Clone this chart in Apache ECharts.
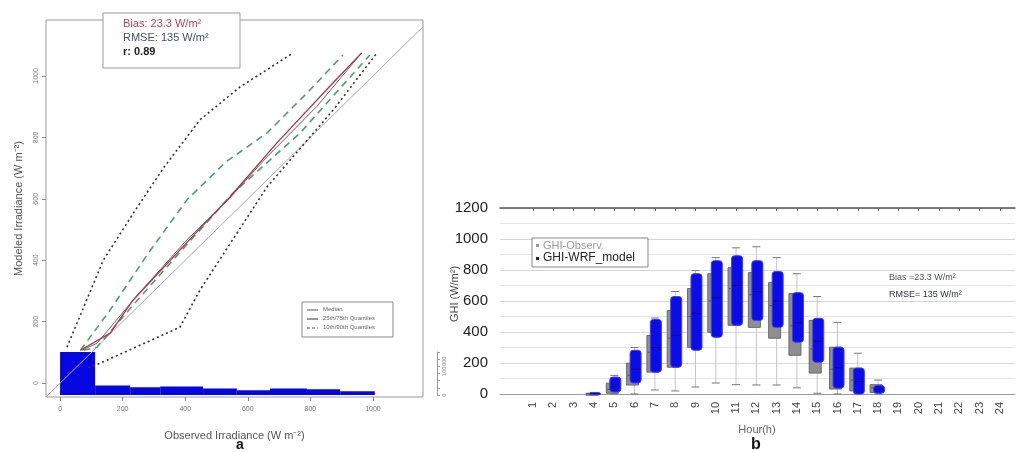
<!DOCTYPE html>
<html>
<head>
<meta charset="utf-8">
<script src="https://cdn.jsdelivr.net/npm/echarts@6/dist/echarts.min.js"></script>
<style>
  html, body { margin: 0; padding: 0; background: #fff; }
  #chart { width: 1023px; height: 452px; }
</style>
</head>
<body>
<div id="chart"></div>
<script>
// ---- panel a : modeled vs observed irradiance (W m-2) ----
const medianLine = [[65, 107], [160, 163], [233, 270], [434, 489], [543, 606], [693, 782], [872, 977], [964, 1075]];
const medianDark = [[70, 107], [118, 130], [250, 290], [405, 466], [540, 600], [661, 736], [820, 900], [964, 1075]];
const q75Line = [[65, 107], [160, 238], [280, 420], [405, 596], [530, 720], [661, 814], [790, 945], [904, 1068]];
const q25Line = [[75, 107], [118, 117], [230, 250], [341, 378], [553, 619], [767, 814], [990, 1068]];
const q90Line = [[22, 117], [138, 400], [234, 553], [330, 700], [447, 857], [575, 964], [745, 1075]];
const q10Line = [[90, 50], [128, 65], [383, 182], [447, 303], [661, 638], [873, 889], [1013, 1075]];
const oneToOne = [[-45, -45], [1160, 1160]];
const histEdges = [0, 112, 224, 320, 457, 565, 671, 789, 895, 1006];
const histCounts = [150000, 33000, 27000, 30000, 23000, 17000, 23000, 20000, 13000];

// ---- panel b : hourly GHI box plots (W/m2) ----
const hours = ['1', '2', '3', '4', '5', '6', '7', '8', '9', '10', '11', '12',
  '13', '14', '15', '16', '17', '18', '19', '20', '21', '22', '23', '24'];
const obsMin = [0, 0, 0, 0, 0, 0, 26, 20, 45, 71, 60, 58, 58, 40, 5, 0, 0, 0, 0, 0, 0, 0, 0, 0];
const obsQ1 = [0, 0, 0, 0, 5, 58, 141, 173, 301, 398, 443, 430, 360, 250, 135, 32, 20, 10, 0, 0, 0, 0, 0, 0];
const obsMed = [0, 0, 0, 2, 30, 120, 270, 360, 500, 600, 680, 640, 570, 440, 290, 160, 90, 40, 0, 0, 0, 0, 0, 0];
const obsQ3 = [0, 0, 0, 5, 70, 199, 378, 539, 680, 776, 815, 783, 720, 648, 475, 302, 167, 60, 0, 0, 0, 0, 0, 0];
const obsMax = [0, 0, 0, 10, 120, 300, 490, 661, 796, 880, 943, 950, 880, 776, 629, 462, 263, 90, 0, 0, 0, 0, 0, 0];
const wrfMin = [0, 0, 0, 0, 0, 0, 26, 20, 45, 71, 60, 58, 58, 40, 5, 0, 0, 0, 0, 0, 0, 0, 0, 0];
const wrfQ1 = [0, 0, 0, 0, 13, 71, 141, 173, 282, 366, 443, 475, 430, 334, 205, 38, 0, 5, 0, 0, 0, 0, 0, 0];
const wrfMed = [0, 0, 0, 3, 50, 160, 300, 380, 520, 620, 700, 660, 600, 460, 340, 170, 80, 30, 0, 0, 0, 0, 0, 0];
const wrfQ3 = [0, 0, 0, 8, 109, 282, 481, 629, 776, 860, 892, 860, 790, 654, 488, 302, 167, 55, 0, 0, 0, 0, 0, 0];
const wrfMax = [0, 0, 0, 10, 120, 300, 490, 661, 796, 880, 943, 950, 880, 776, 629, 462, 263, 90, 0, 0, 0, 0, 0, 0];

const boxRows = (mn, q1, md, q3, mx) =>
  hours.map((h, i) => [i, mn[i], q1[i], md[i], q3[i], mx[i]]).filter(r => r[5] > 0);

const font = 'Liberation Sans, Arial, sans-serif';
const myChart = echarts.init(document.getElementById('chart'));

function boxItem(fill, stroke, offset, width, whiskers) {
  return function (params, api) {
    const i = api.value(0);
    const pMin = api.coord([i, api.value(1)]);
    const pQ1 = api.coord([i, api.value(2)]);
    const pMed = api.coord([i, api.value(3)]);
    const pQ3 = api.coord([i, api.value(4)]);
    const pMax = api.coord([i, api.value(5)]);
    const cx = pMed[0] + offset;
    const children = [];
    if (whiskers) {
      const wx = pMed[0];
      children.push(
        { type: 'line', shape: { x1: wx, y1: pMax[1], x2: wx, y2: pQ3[1] }, style: { stroke: '#c4c4c4', lineWidth: 1 } },
        { type: 'line', shape: { x1: wx, y1: pQ1[1], x2: wx, y2: pMin[1] }, style: { stroke: '#c4c4c4', lineWidth: 1 } },
        { type: 'line', shape: { x1: wx - 4, y1: pMax[1], x2: wx + 4, y2: pMax[1] }, style: { stroke: '#777', lineWidth: 1 } },
        { type: 'line', shape: { x1: wx - 4, y1: pMin[1], x2: wx + 4, y2: pMin[1] }, style: { stroke: '#777', lineWidth: 1 } }
      );
    }
    const h = Math.max(pQ1[1] - pQ3[1], 2);
    children.push({
      type: 'rect',
      shape: { x: cx - width / 2, y: pQ3[1], width: width, height: h, r: whiskers ? 0 : 3 },
      style: { fill: fill, stroke: stroke, lineWidth: 1 }
    });
    children.push({
      type: 'line',
      shape: { x1: cx - width / 2 + 1, y1: pMed[1], x2: cx + width / 2 - 1, y2: pMed[1] },
      style: { stroke: whiskers ? '#555' : '#0a0a80', lineWidth: 1 }
    });
    return { type: 'group', children: children };
  };
}

const lineSeries = (data, color, width, type) => ({
  type: 'line', xAxisIndex: 0, yAxisIndex: 0, data: data, symbol: 'none', silent: true,
  lineStyle: { color: color, width: width, type: type }, z: 3
});

const option = {
  animation: false,
  backgroundColor: '#fff',
  textStyle: { fontFamily: font },
  grid: [
    { left: 46, right: 600, top: 20, bottom: 55, show: true, borderColor: '#9a9a9a', borderWidth: 1 },
    { left: 500, right: 8, top: 208, bottom: 58 },
    { left: 523, right: 13, top: 208, bottom: 58 },
    { left: 46, right: 600, top: 352, bottom: 57 }
  ],
  xAxis: [
    {
      gridIndex: 0, type: 'value', min: -45, max: 1160,
      axisLine: { show: false, onZero: false }, splitLine: { show: false },
      axisTick: { show: true, length: 4, lineStyle: { color: '#888' } },
      axisLabel: { fontSize: 7, color: '#777', margin: 9, showMinLabel: false, showMaxLabel: false, formatter: v => String(v) },
      name: 'Observed Irradiance (W m\u207B\u00B2)', nameLocation: 'middle', nameGap: 33,
      nameTextStyle: { fontSize: 11, color: '#555' }
    },
    {
      gridIndex: 1, type: 'value', min: 0, max: 1, position: 'bottom',
      axisLine: { show: true, onZero: false, lineStyle: { color: '#9a9a9a' } },
      axisTick: { show: false }, axisLabel: { show: false }, splitLine: { show: false }
    },
    {
      gridIndex: 1, type: 'value', min: 0, max: 1, position: 'top',
      axisLine: { show: true, onZero: false, lineStyle: { color: '#555', width: 1.5 } },
      axisTick: { show: false }, axisLabel: { show: false }, splitLine: { show: false }
    },
    {
      gridIndex: 2, type: 'category', data: hours, position: 'bottom',
      axisLine: { show: false, onZero: false }, axisTick: { show: false },
      axisLabel: { rotate: 90, fontSize: 11, color: '#444', margin: 8, interval: 0 }
    },
    {
      gridIndex: 2, type: 'category', data: hours, position: 'top',
      axisLine: { show: false, onZero: false },
      axisTick: { show: true, inside: true, length: 3, alignWithLabel: true, interval: 0, lineStyle: { color: '#666' } },
      axisLabel: { show: false }
    },
    {
      gridIndex: 3, type: 'value', min: -45, max: 1160, show: false
    }
  ],
  yAxis: [
    {
      gridIndex: 0, type: 'value', min: -45, max: 1182,
      axisLine: { show: false, onZero: false }, splitLine: { show: false },
      axisTick: { show: true, length: 4, lineStyle: { color: '#888' } },
      axisLabel: { fontSize: 7, color: '#777', rotate: 90, margin: 6, showMinLabel: false, showMaxLabel: false, formatter: v => String(v) },
      name: 'Modeled Irradiance (W m\u207B\u00B2)', nameLocation: 'middle', nameGap: 22,
      nameTextStyle: { fontSize: 11, color: '#555' }
    },
    {
      gridIndex: 1, type: 'value', min: 0, max: 1200, interval: 200,
      axisLine: { show: false }, axisTick: { show: false },
      axisLabel: { fontSize: 15, color: '#222', margin: 12, formatter: v => String(v) },
      splitLine: { show: true, lineStyle: { color: '#d6d6d6' } },
      minorTick: { show: false, splitNumber: 2 },
      minorSplitLine: { show: true, lineStyle: { color: '#e4e4e4' } }
    },
    {
      gridIndex: 2, type: 'value', min: 0, max: 1200, show: false
    },
    {
      gridIndex: 3, type: 'value', min: 0, max: 150000, interval: 25000, position: 'right', offset: 14,
      axisLine: { show: true, onZero: false, lineStyle: { color: '#999' } },
      axisTick: { show: true, length: 3, lineStyle: { color: '#999' } },
      splitLine: { show: false },
      axisLabel: {
        fontSize: 6, color: '#888', rotate: 90, margin: 4,
        formatter: v => (v === 0 || v === 100000) ? String(v) : ''
      }
    }
  ],
  series: [
    // histogram of observations (panel a)
    {
      type: 'custom', xAxisIndex: 5, yAxisIndex: 3, silent: true, z: 2,
      data: histCounts.map((c, i) => [histEdges[i], histEdges[i + 1], c]),
      renderItem: function (params, api) {
        const p0 = api.coord([api.value(0), api.value(2)]);
        const p1 = api.coord([api.value(1), 0]);
        return {
          type: 'rect',
          shape: { x: p0[0], y: p0[1], width: p1[0] - p0[0], height: p1[1] - p0[1] },
          style: { fill: '#0606e0' }
        };
      }
    },
    lineSeries(oneToOne, '#a8a8a8', 1, 'solid'),
    lineSeries(q90Line, '#333', 1.6, [2, 3]),
    lineSeries(q10Line, '#333', 1.6, [2, 3]),
    lineSeries(q75Line, '#4aa06a', 1.6, [7, 5]),
    lineSeries(q25Line, '#4aa06a', 1.6, [7, 5]),
    lineSeries(medianDark, '#666', 1, 'solid'),
    lineSeries(medianLine, '#b3304a', 1.3, 'solid'),
    // panel b boxes
    {
      type: 'custom', name: 'GHI-Observ.', xAxisIndex: 3, yAxisIndex: 2, silent: true, z: 3,
      data: boxRows(obsMin, obsQ1, obsMed, obsQ3, obsMax),
      renderItem: boxItem('#8f8f8f', '#6a6a6a', -2, 12, true)
    },
    {
      type: 'custom', name: 'GHI-WRF_model', xAxisIndex: 3, yAxisIndex: 2, silent: true, z: 4,
      data: boxRows(wrfMin, wrfQ1, wrfMed, wrfQ3, wrfMax),
      renderItem: boxItem('#0c0ce6', '#3c3cff', 1, 11, false)
    }
  ],
  graphic: [
    // panel a statistics box
    { type: 'rect', shape: { x: 103, y: 13, width: 137, height: 55 }, style: { fill: '#fff', stroke: '#999', lineWidth: 1 }, z: 10 },
    { type: 'text', x: 123, y: 18, style: { text: 'Bias: 23.3 W/m\u00B2', fill: '#c04050', font: '11px ' + font }, z: 11 },
    { type: 'text', x: 123, y: 32, style: { text: 'RMSE: 135 W/m\u00B2', fill: '#405070', font: '11px ' + font }, z: 11 },
    { type: 'text', x: 123, y: 46, style: { text: 'r: 0.89', fill: '#222', font: 'bold 11px ' + font }, z: 11 },
    // panel a legend
    { type: 'rect', shape: { x: 302, y: 302, width: 91, height: 35 }, style: { fill: '#fff', stroke: '#888', lineWidth: 1 }, z: 10 },
    { type: 'line', shape: { x1: 307, y1: 310, x2: 318, y2: 310 }, style: { stroke: '#555', lineWidth: 1 }, z: 11 },
    { type: 'line', shape: { x1: 307, y1: 319, x2: 318, y2: 319 }, style: { stroke: '#555', lineWidth: 1.2 }, z: 11 },
    { type: 'line', shape: { x1: 307, y1: 328, x2: 318, y2: 328 }, style: { stroke: '#555', lineWidth: 1.2, lineDash: [3, 2] }, z: 11 },
    { type: 'text', x: 323, y: 306, style: { text: 'Median', fill: '#666', font: '6px ' + font }, z: 11 },
    { type: 'text', x: 323, y: 315, style: { text: '25th/75th Quantiles', fill: '#666', font: '6px ' + font }, z: 11 },
    { type: 'text', x: 323, y: 324, style: { text: '10th/90th Quantiles', fill: '#666', font: '6px ' + font }, z: 11 },
    { type: 'text', x: 236, y: 438, style: { text: 'a', fill: '#111', font: 'bold 14px ' + font }, z: 11 },
    // panel b axis names
    {
      type: 'text', x: 455, y: 294, rotation: Math.PI / 2,
      style: { text: 'GHI (W/m\u00B2)', fill: '#444', font: '11px ' + font, align: 'center', verticalAlign: 'middle' }, z: 11
    },
    {
      type: 'text', x: 757, y: 430,
      style: { text: 'Hour(h)', fill: '#666', font: '11px ' + font, align: 'center', verticalAlign: 'middle' }, z: 11
    },
    // panel b legend
    { type: 'rect', shape: { x: 532, y: 238, width: 116, height: 29 }, style: { fill: '#fff', stroke: '#888', lineWidth: 1 }, z: 10 },
    { type: 'rect', shape: { x: 536, y: 244, width: 3, height: 3 }, style: { fill: '#999' }, z: 11 },
    { type: 'rect', shape: { x: 536, y: 257, width: 3, height: 3 }, style: { fill: '#0c0ce6' }, z: 11 },
    { type: 'text', x: 543, y: 240, style: { text: 'GHI-Observ.', fill: '#9a9a9a', font: '11px ' + font }, z: 11 },
    { type: 'text', x: 543, y: 252, style: { text: 'GHI-WRF_model', fill: '#222', font: '12px ' + font }, z: 11 },
    // panel b statistics
    { type: 'text', x: 889, y: 273, style: { text: 'Bias =23.3 W/m\u00B2', fill: '#4a4a66', font: '9px ' + font }, z: 11 },
    { type: 'text', x: 889, y: 290, style: { text: 'RMSE= 135 W/m\u00B2', fill: '#30305a', font: '9px ' + font }, z: 11 },
    { type: 'text', x: 751, y: 437, style: { text: 'b', fill: '#111', font: 'bold 16px ' + font }, z: 11 }
  ]
};

option && myChart.setOption(option);
</script>
</body>
</html>
